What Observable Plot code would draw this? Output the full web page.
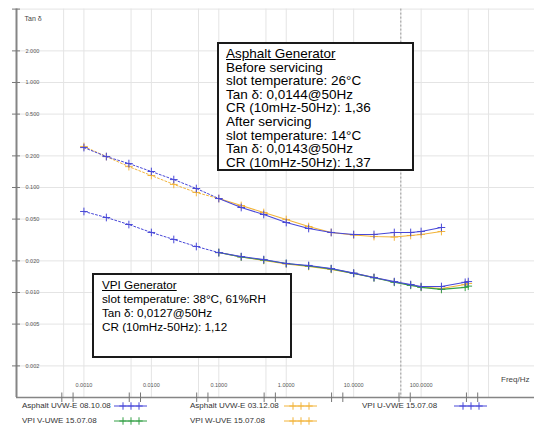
<!DOCTYPE html>
<html>
<head>
<meta charset="utf-8">
<script src="https://cdn.jsdelivr.net/npm/d3@7"></script>
<script src="https://cdn.jsdelivr.net/npm/@observablehq/plot@0.6"></script>
<style>
  html, body { margin: 0; padding: 0; background: #fff; }
  #wrap { position: relative; width: 534px; height: 425px; overflow: hidden; font-family: "Liberation Sans", Arial, sans-serif; }
  .box { position: absolute; box-sizing: border-box; border: 2px solid #1a1a1a; background: #fff; color: #000; }
  .box div { white-space: nowrap; }
  .leg { position: absolute; font-size: 8px; color: #333; white-space: nowrap; line-height: 10px; }
  .sw { position: absolute; }
</style>
</head>
<body>
<div id="wrap"></div>
<script>
// ---------- data ----------
const asphaltFreq = [0.001, 0.00215, 0.00464, 0.01, 0.0215, 0.0464, 0.1, 0.215, 0.464, 1, 2.15, 4.64, 10, 20, 40, 70, 100, 200];
const asphalt081008 = [0.240, 0.197, 0.169, 0.142, 0.119, 0.0978, 0.0785, 0.0645, 0.0553, 0.0464, 0.0407, 0.0373, 0.0357, 0.0357, 0.0373, 0.0373, 0.0381, 0.0416];
const asphalt031208 = [0.246, 0.197, 0.158, 0.130, 0.107, 0.0896, 0.0785, 0.0674, 0.0578, 0.0496, 0.0425, 0.0373, 0.0353, 0.0341, 0.0338, 0.0349, 0.0357, 0.0381];

const vpiFreqU = [0.001, 0.00215, 0.00464, 0.01, 0.0215, 0.0464, 0.1, 0.215, 0.464, 1, 2.15, 4.64, 10, 20, 40, 70, 100, 200, 450, 500];
const vpiU = [0.0591, 0.0518, 0.0444, 0.0373, 0.0320, 0.0274, 0.0240, 0.0220, 0.0206, 0.0189, 0.0181, 0.0169, 0.0153, 0.0139, 0.0127, 0.0119, 0.0114, 0.0114, 0.0125, 0.0127];
const vpiFreqVW = [0.1, 0.215, 0.464, 1, 2.15, 4.64, 10, 20, 40, 70, 100, 200, 450, 500];
const vpiV = [0.0240, 0.0218, 0.0204, 0.0189, 0.0179, 0.0168, 0.0152, 0.0138, 0.0125, 0.0117, 0.0112, 0.0107, 0.0112, 0.0115];
const vpiW = [0.0240, 0.0218, 0.0202, 0.0187, 0.0177, 0.0166, 0.0152, 0.0139, 0.0126, 0.0118, 0.0113, 0.0109, 0.0119, 0.0122];

const seriesNames = ["Asphalt UVW-E 08.10.08", "Asphalt UVW-E 03.12.08", "VPI U-VWE 15.07.08", "VPI V-UWE 15.07.08", "VPI W-UVE 15.07.08"];
const seriesColors = ["#4848d8", "#f2b43a", "#4848d8", "#34a046", "#f2b43a"];

const yTickValues = [2, 1, 0.5, 0.2, 0.1, 0.05, 0.02, 0.01, 0.005, 0.002];
const xLabelValues = [0.001, 0.01, 0.1, 1, 10, 100];
const xGridValues = [0.0005, 0.001, 0.005, 0.01, 0.05, 0.1, 0.5, 1, 5, 10, 50, 100, 500, 1000];
const xAxisTicks = [0.00047, 0.00069, 0.0047, 0.0069, 0.047, 0.069, 0.47, 0.69, 4.7, 6.9, 47, 69, 470, 690];
const markerFreq = 50;

// ---------- build table ----------
function rows(freqs, vals, name) { return freqs.map((f, i) => ({f, v: vals[i], s: name})); }
const allSeries = [
  rows(asphaltFreq, asphalt081008, seriesNames[0]),
  rows(asphaltFreq, asphalt031208, seriesNames[1]),
  rows(vpiFreqU, vpiU, seriesNames[2]),
  rows(vpiFreqVW, vpiV, seriesNames[3]),
  rows(vpiFreqVW, vpiW, seriesNames[4])
];
const drawOrder = [4, 3, 1, 2, 0];

const seriesMarks = [];
for (const i of drawOrder) {
  const d = allSeries[i];
  const c = seriesColors[i];
  seriesMarks.push(Plot.line(d.filter(r => r.f <= 0.1), {x: "f", y: "v", stroke: c, strokeWidth: 1, strokeDasharray: "2,2"}));
  seriesMarks.push(Plot.line(d.filter(r => r.f >= 0.1), {x: "f", y: "v", stroke: c, strokeWidth: 1.1}));
  seriesMarks.push(Plot.dot(d, {x: "f", y: "v", symbol: "plus", r: 2.6, stroke: c, strokeWidth: 1}));
}

const fs = "Liberation Sans, Arial, sans-serif";
const chart = Plot.plot({
  width: 534,
  height: 425,
  marginLeft: 16,
  marginRight: 0,
  marginTop: 8.6,
  marginBottom: 28,
  style: {fontFamily: fs, background: "#fff"},
  x: {type: "log", domain: [1e-4, 4800], axis: null},
  y: {type: "log", domain: [0.001, 5], axis: null},
  marks: [
    Plot.ruleX(xGridValues, {stroke: "#e4e4e4", strokeWidth: 1}),
    Plot.ruleY(yTickValues.concat([5]), {stroke: "#e4e4e4", strokeWidth: 1}),
    Plot.ruleX([markerFreq], {stroke: "#9a9a9a", strokeWidth: 1, strokeDasharray: "2,2"}),
    Plot.ruleX([1e-4], {stroke: "#858585", strokeWidth: 2}),
    Plot.ruleY([0.001], {stroke: "#858585", strokeWidth: 1.5}),
    Plot.ruleY(yTickValues.concat([5]), {y: d => d, x1: () => 1e-4, x2: () => 1.314e-4, dx: -4, stroke: "#777", strokeWidth: 1}),
    Plot.ruleX(xAxisTicks, {x: d => d, y1: () => 0.001 * Math.pow(10, 4.5 / 105), y2: () => 0.001 * Math.pow(10, -5 / 105), stroke: "#777", strokeWidth: 1}),
    Plot.text(yTickValues, {y: d => d, x: () => 1e-4, dx: 9, textAnchor: "start", text: d => d.toFixed(3), fontSize: 5.5, fill: "#555"}),
    Plot.text(["Tan δ"], {frameAnchor: "top-left", dx: 8, dy: 7, textAnchor: "start", text: d => d, fontSize: 7, fill: "#444"}),
    Plot.text(xLabelValues, {x: d => d, frameAnchor: "bottom", dy: -11, text: d => d.toFixed(4), fontSize: 5.5, fill: "#555"}),
    Plot.text(["Freq/Hz"], {frameAnchor: "bottom-right", dx: -5, dy: -16, textAnchor: "end", text: d => d, fontSize: 8, fill: "#444"}),
    ...seriesMarks
  ]
});

const wrap = document.getElementById("wrap");
chart.style.position = "absolute";
chart.style.left = "0px";
chart.style.top = "0px";
wrap.appendChild(chart);

// ---------- annotation boxes ----------
const asphaltBoxLines = ["Asphalt Generator", "Before servicing", "slot temperature: 26°C", "Tan δ: 0,0144@50Hz", "CR (10mHz-50Hz): 1,36", "After servicing", "slot temperature: 14°C", "Tan δ: 0,0143@50Hz", "CR (10mHz-50Hz): 1,37"];
const vpiBoxLines = ["VPI Generator", "slot temperature: 38°C, 61%RH", "Tan δ: 0,0127@50Hz", "CR (10mHz-50Hz): 1,12"];

function makeBox(lines, left, top, w, h, padL, padT, lh, size) {
  const b = document.createElement("div");
  b.className = "box";
  Object.assign(b.style, {left: left + "px", top: top + "px", width: w + "px", height: h + "px", paddingLeft: padL + "px", paddingTop: padT + "px", fontSize: size + "px", lineHeight: lh + "px"});
  lines.forEach((t, i) => {
    const d = document.createElement("div");
    d.textContent = t;
    if (i === 0) d.style.textDecoration = "underline";
    b.appendChild(d);
  });
  wrap.appendChild(b);
}
makeBox(asphaltBoxLines, 217, 42, 197, 129, 7, 3, 13.6, 13.5);
makeBox(vpiBoxLines, 92, 273, 200, 85, 8, 3, 14, 11.7);

// ---------- legend ----------
const legendPos = [
  {tx: 22, ty: 406, sx: 113},
  {tx: 190, ty: 406, sx: 283},
  {tx: 362, ty: 406, sx: 453},
  {tx: 22, ty: 421, sx: 113},
  {tx: 190, ty: 421, sx: 283}
];
seriesNames.forEach((name, i) => {
  const p = legendPos[i];
  const t = document.createElement("div");
  t.className = "leg";
  t.textContent = name;
  t.style.left = p.tx + "px";
  t.style.top = (p.ty - 5) + "px";
  wrap.appendChild(t);
  const svg = d3.create("svg").attr("class", "sw").attr("width", 36).attr("height", 10)
    .style("left", p.sx + "px").style("top", (p.ty - 5) + "px");
  svg.append("line").attr("x1", 1).attr("x2", 34).attr("y1", 5).attr("y2", 5).attr("stroke", seriesColors[i]).attr("stroke-width", 1);
  [10, 18, 26].forEach(cx => {
    svg.append("path").attr("d", d3.symbol(d3.symbolPlus, 20)()).attr("transform", `translate(${cx},5)`)
      .attr("stroke", seriesColors[i]).attr("fill", "none").attr("stroke-width", 1);
  });
  wrap.appendChild(svg.node());
});
</script>
</body>
</html>
